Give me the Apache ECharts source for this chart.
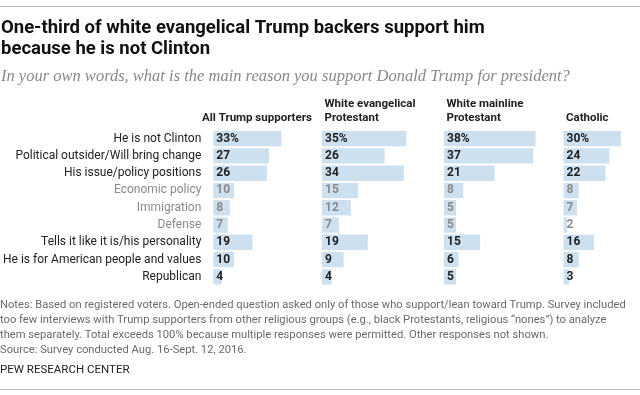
<!DOCTYPE html>
<html>
<head>
<meta charset="utf-8">
<style>html,body{margin:0;padding:0;background:#fff;}#c{width:640px;height:395px;}</style>
<script src="https://cdn.jsdelivr.net/npm/echarts@6/dist/echarts.min.js"></script>
</head>
<body>
<div id="c"></div>
<script>
const categories = ['He is not Clinton','Political outsider/Will bring change','His issue/policy positions','Economic policy','Immigration','Defense','Tells it like it is/his personality','He is for American people and values','Republican'];
const subItem = [false,false,false,true,true,true,false,false,false];
const groups = ['All Trump supporters','White evangelical\nProtestant','White mainline\nProtestant','Catholic'];
const allTrump = [33,27,26,10,8,7,19,10,4];
const whiteEvangelical = [35,26,34,15,12,7,19,9,4];
const whiteMainline = [38,37,21,8,5,5,15,6,5];
const catholic = [30,24,22,8,7,2,16,8,3];
const seriesValues = [allTrump, whiteEvangelical, whiteMainline, catholic];

const FONT = 'Roboto, "Liberation Sans", sans-serif';
const DARK = '#222';
const GREY = '#8a8a8a';
const BAR = '#cde0f0';
const gridLefts = [199.5, 322, 444, 563.5];
const gridW = 96.4, gridTop = 130, gridH = 155.5;

const grids = [], xAxes = [], yAxes = [], seriesList = [];
gridLefts.forEach((l, i) => {
  grids.push({left: l, top: gridTop, width: gridW, height: gridH});
  xAxes.push({type: 'value', gridIndex: i, min: 0, max: 40, show: false});
  yAxes.push({
    type: 'category', gridIndex: i, inverse: true,
    data: categories.map((c, k) => ({value: c, textStyle: {color: subItem[k] ? GREY : DARK}})),
    axisLine: {show: false}, axisTick: {show: false}, splitLine: {show: false},
    axisLabel: {show: i === 0, fontFamily: FONT, fontSize: 12, margin: 12, color: DARK}
  });
  seriesList.push({
    type: 'bar', xAxisIndex: i, yAxisIndex: i, barCategoryGap: '11%',
    itemStyle: {color: BAR}, silent: true,
    data: seriesValues[i].map((v, k) => ({
      value: v,
      label: {color: subItem[k] ? GREY : DARK}
    })),
    label: {
      show: true, position: 'insideLeft', distance: 3,
      fontFamily: FONT, fontSize: 12, fontWeight: 'bold',
      formatter: p => p.dataIndex === 0 ? p.value + '%' : String(p.value)
    }
  });
});

const headerY = [118, 111, 111, 118];
const graphicList = [
  {type: 'rect', shape: {x: 0, y: 6, width: 640, height: 1}, style: {fill: '#bdbdbd'}},
  {type: 'rect', shape: {x: 0, y: 389, width: 640, height: 1}, style: {fill: '#bdbdbd'}},
  {type: 'text', left: 1, top: 17.5, style: {text: 'One-third of white evangelical Trump backers support him\nbecause he is not Clinton', fontFamily: FONT, fontSize: 18.5, fontWeight: 'bold', fill: '#111', lineHeight: 21.5}},
  {type: 'text', left: 1, top: 68, style: {text: 'In your own words, what is the main reason you support Donald Trump for president?', fontFamily: '"Liberation Serif", serif', fontStyle: 'italic', fontSize: 16.5, fill: '#888'}},
  {type: 'text', left: 0, top: 298, style: {text: 'Notes: Based on registered voters. Open-ended question asked only of those who support/lean toward Trump. Survey included\ntoo few interviews with Trump supporters from other religious groups (e.g., black Protestants, religious \u201cnones\u201d) to analyze\nthem separately. Total exceeds 100% because multiple responses were permitted. Other responses not shown.\nSource: Survey conducted Aug. 16-Sept. 12, 2016.', fontFamily: FONT, fontSize: 11.2, fill: '#6a6a6a', lineHeight: 15}},
  {type: 'text', left: 0, top: 364, style: {text: 'PEW RESEARCH CENTER', fontFamily: FONT, fontSize: 11.5, fill: '#222'}}
];
groups.forEach((g, i) => {
  graphicList.push({type: 'text', x: gridLefts[i] + 2.5, y: headerY[i], style: {text: g, fontFamily: FONT, fontSize: 11.5, fontWeight: 'bold', fill: DARK, lineHeight: 14, verticalAlign: 'middle'}});
});

const chart = echarts.init(document.getElementById('c'), null, {renderer: 'canvas'});
chart.setOption({
  animation: false,
  backgroundColor: '#fff',
  grid: grids, xAxis: xAxes, yAxis: yAxes, series: seriesList,
  graphic: graphicList
});
</script>
</body>
</html>
